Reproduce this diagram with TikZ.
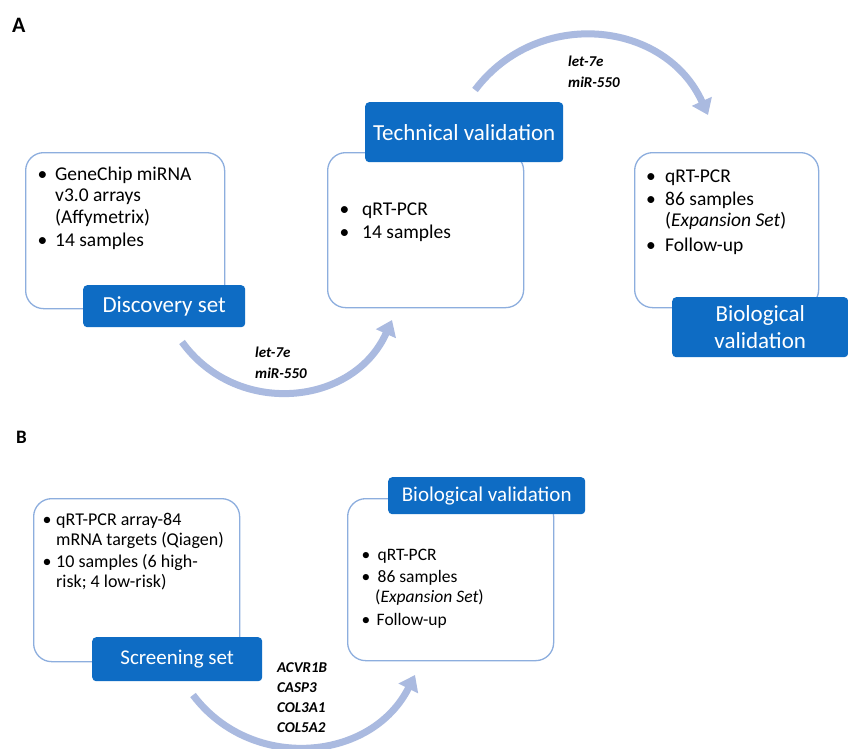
\documentclass[tikz,border=0pt]{standalone}
\usepackage{fontspec}
\setmainfont{Carlito}
\usetikzlibrary{arrows.meta}
\definecolor{boxblue}{RGB}{14,108,196}
\definecolor{edgeblue}{RGB}{141,174,222}
\definecolor{arcblue}{RGB}{170,186,224}
\newcommand{\bul}[2]{\makebox[#1][l]{\textbullet}#2}
\tikzset{
  panel/.style={draw=edgeblue, line width=1.3pt, rounded corners=18pt, fill=white, inner sep=0pt, anchor=north west},
  tag/.style={fill=boxblue, rounded corners=4pt, text=white, align=center, inner sep=0pt, anchor=north west},
  flow/.style={draw=arcblue, line width=7pt, -{Triangle[width=21pt,length=15pt]}},
  gene/.style={font=\fontsize{15}{17}\selectfont\bfseries\itshape, anchor=base west, inner sep=0pt},
  lines/.style={anchor=base west, inner sep=0pt},
  letter/.style={font=\fontsize{22}{24}\selectfont\bfseries, anchor=base west, inner sep=0pt},
}
\begin{document}
\begin{tikzpicture}[x=1pt, y=-1pt]
\fill[white] (0,0) rectangle (848,749);
\useasboundingbox (0,0) rectangle (848,749);

% ---------- Panel A ----------
\node[letter] (la) at (12,33) {A};

\node[panel, minimum width=199pt, minimum height=156pt] (c1) at (25,152) {};
\node[panel, minimum width=196pt, minimum height=155pt] (c2) at (327,152) {};
\node[panel, minimum width=184pt, minimum height=155pt] (c3) at (634,152) {};

\node[tag, minimum width=162pt, minimum height=42pt, font=\fontsize{23}{26}\selectfont] (t1) at (83,285) {Discovery set};
\node[tag, minimum width=198pt, minimum height=60pt, font=\fontsize{23}{26}\selectfont] (t2) at (365,102) {Technical validation};
\node[tag, minimum width=176pt, minimum height=60pt, font=\fontsize{23}{27}\selectfont] (t3) at (672,297) {Biological\\validation};

\node[lines, font=\fontsize{19.5}{21.5}\selectfont] (l1) at (37.4,180) {\begin{tabular}[t]{@{}l@{}}\bul{17.6pt}{GeneChip miRNA}\\ \hspace{17.6pt}v3.0 arrays\\ \hspace{17.6pt}(Affymetrix)\\[2pt] \bul{17.6pt}{14 samples}\end{tabular}};
\node[lines, font=\fontsize{19.5}{21.5}\selectfont] (l2) at (339.4,215) {\begin{tabular}[t]{@{}l@{}}\bul{22.6pt}{qRT-PCR}\\[1.5pt] \bul{22.6pt}{14 samples}\end{tabular}};
\node[lines, font=\fontsize{19.5}{21.5}\selectfont] (l3) at (645.8,182) {\begin{tabular}[t]{@{}l@{}}\bul{19.2pt}{qRT-PCR}\\[1.5pt] \bul{19.2pt}{86 samples}\\ \hspace{19.2pt}(\textit{Expansion Set})\\[3pt] \bul{19.2pt}{Follow-up}\end{tabular}};

\coordinate (a1s) at (182,342);
\coordinate (a1e) at (392,320);
\draw[flow] (a1s) .. controls +(54:94) and +(114:94) .. (a1e);
\coordinate (a2s) at (475,90);
\coordinate (a2e) at (708,115);
\draw[flow] (a2s) .. controls +(-53:104) and +(245.7:104) .. (a2e);

\node[gene] (g1) at (255,357) {let-7e};
\node[gene] (g2) at (255,378) {miR-550};
\node[gene] (g3) at (568,67) {let-7e};
\node[gene] (g4) at (568,88) {miR-550};

% ---------- Panel B ----------
\node[letter, font=\fontsize{19}{21}\selectfont\bfseries] (lb) at (16,443) {B};

\node[panel, minimum width=206pt, minimum height=163pt] (c4) at (33,498) {};
\node[panel, minimum width=206pt, minimum height=162pt] (c5) at (347,498) {};

\node[tag, minimum width=170pt, minimum height=44pt, font=\fontsize{21}{24}\selectfont] (t4) at (92,637) {Screening set};
\node[tag, minimum width=197pt, minimum height=37pt, font=\fontsize{21}{24}\selectfont] (t5) at (388,477) {Biological validation};

\node[lines, font=\fontsize{18}{20.3}\selectfont] (l4) at (42.5,525) {\begin{tabular}[t]{@{}l@{}}\bul{13.5pt}{qRT-PCR array-84}\\ \hspace{13.5pt}mRNA targets (Qiagen)\\[1.5pt] \bul{13.5pt}{10 samples (6 high-}\\ \hspace{13.5pt}risk; 4 low-risk)\end{tabular}};
\node[lines, font=\fontsize{17.5}{20}\selectfont] (l5) at (361.5,560) {\begin{tabular}[t]{@{}l@{}}\bul{16pt}{qRT-PCR}\\[2pt] \bul{16pt}{86 samples}\\ \hspace{13.5pt}(\textit{Expansion Set})\\[3pt] \bul{15pt}{Follow-up}\end{tabular}};

\coordinate (a3s) at (193,695);
\coordinate (a3e) at (415,675);
\draw[flow] (a3s) .. controls +(53:97) and +(116.6:97) .. (a3e);

\node[gene] (g5) at (277,672) {ACVR1B};
\node[gene] (g6) at (277,692) {CASP3};
\node[gene] (g7) at (277,712) {COL3A1};
\node[gene] (g8) at (277,732) {COL5A2};
\end{tikzpicture}
\end{document}
